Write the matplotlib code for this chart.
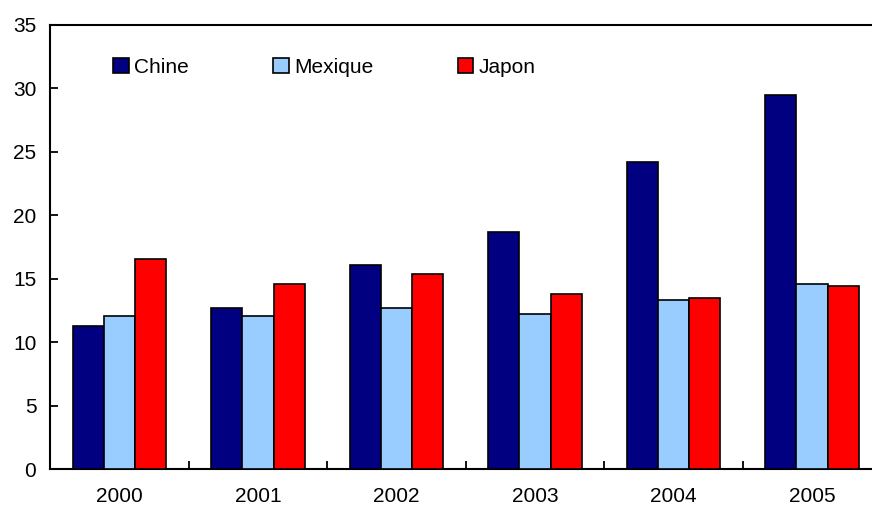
import numpy as np
import matplotlib.pyplot as plt
from matplotlib.ticker import FixedLocator, NullFormatter, FixedFormatter

plt.rcParams['font.family'] = ['Liberation Sans', 'DejaVu Sans']

years = ['2000', '2001', '2002', '2003', '2004', '2005']
chine = [11.3, 12.7, 16.1, 18.7, 24.2, 29.5]
mexique = [12.1, 12.1, 12.7, 12.2, 13.3, 14.6]
japon = [16.6, 14.6, 15.4, 13.8, 13.5, 14.4]

series = [('Chine', chine, '#000080'),
          ('Mexique', mexique, '#99ccff'),
          ('Japon', japon, '#ff0000')]

fig = plt.figure(figsize=(8.72, 5.08), dpi=100)
ax = fig.add_axes([0.0576, 0.0762, 0.953, 0.8746])

x = np.arange(len(years))
width = 0.225
for i, (name, vals, col) in enumerate(series):
    ax.bar(x + (i - 1) * width, vals, width, color=col,
           edgecolor='black', linewidth=1.2, label=name, zorder=3)

ax.set_xlim(-0.5, len(years) - 0.5)
ax.set_ylim(0, 35)
ax.set_yticks(range(0, 36, 5))

# ticks between groups, labels centred under each group
ax.xaxis.set_major_locator(FixedLocator(np.arange(0.5, len(years) - 1, 1)))
ax.xaxis.set_major_formatter(NullFormatter())
ax.xaxis.set_minor_locator(FixedLocator(x))
ax.xaxis.set_minor_formatter(FixedFormatter(years))
ax.tick_params(axis='x', which='major', direction='in', length=6, width=1.3)
ax.tick_params(axis='x', which='minor', length=0, pad=13, labelsize=15)
ax.tick_params(axis='y', direction='in', length=6, width=1.3, pad=10, labelsize=15)

for s in ['left', 'bottom', 'top']:
    ax.spines[s].set_linewidth(1.5)
ax.spines['right'].set_visible(False)

ax.legend(loc='center left', bbox_to_anchor=(0.076, 0.905), ncol=3, frameon=False,
          fontsize=15, handlelength=0.75, handleheight=0.75, handletextpad=0.25,
          columnspacing=4.05, borderaxespad=0, borderpad=0)

fig.savefig('out.png', dpi=100)
